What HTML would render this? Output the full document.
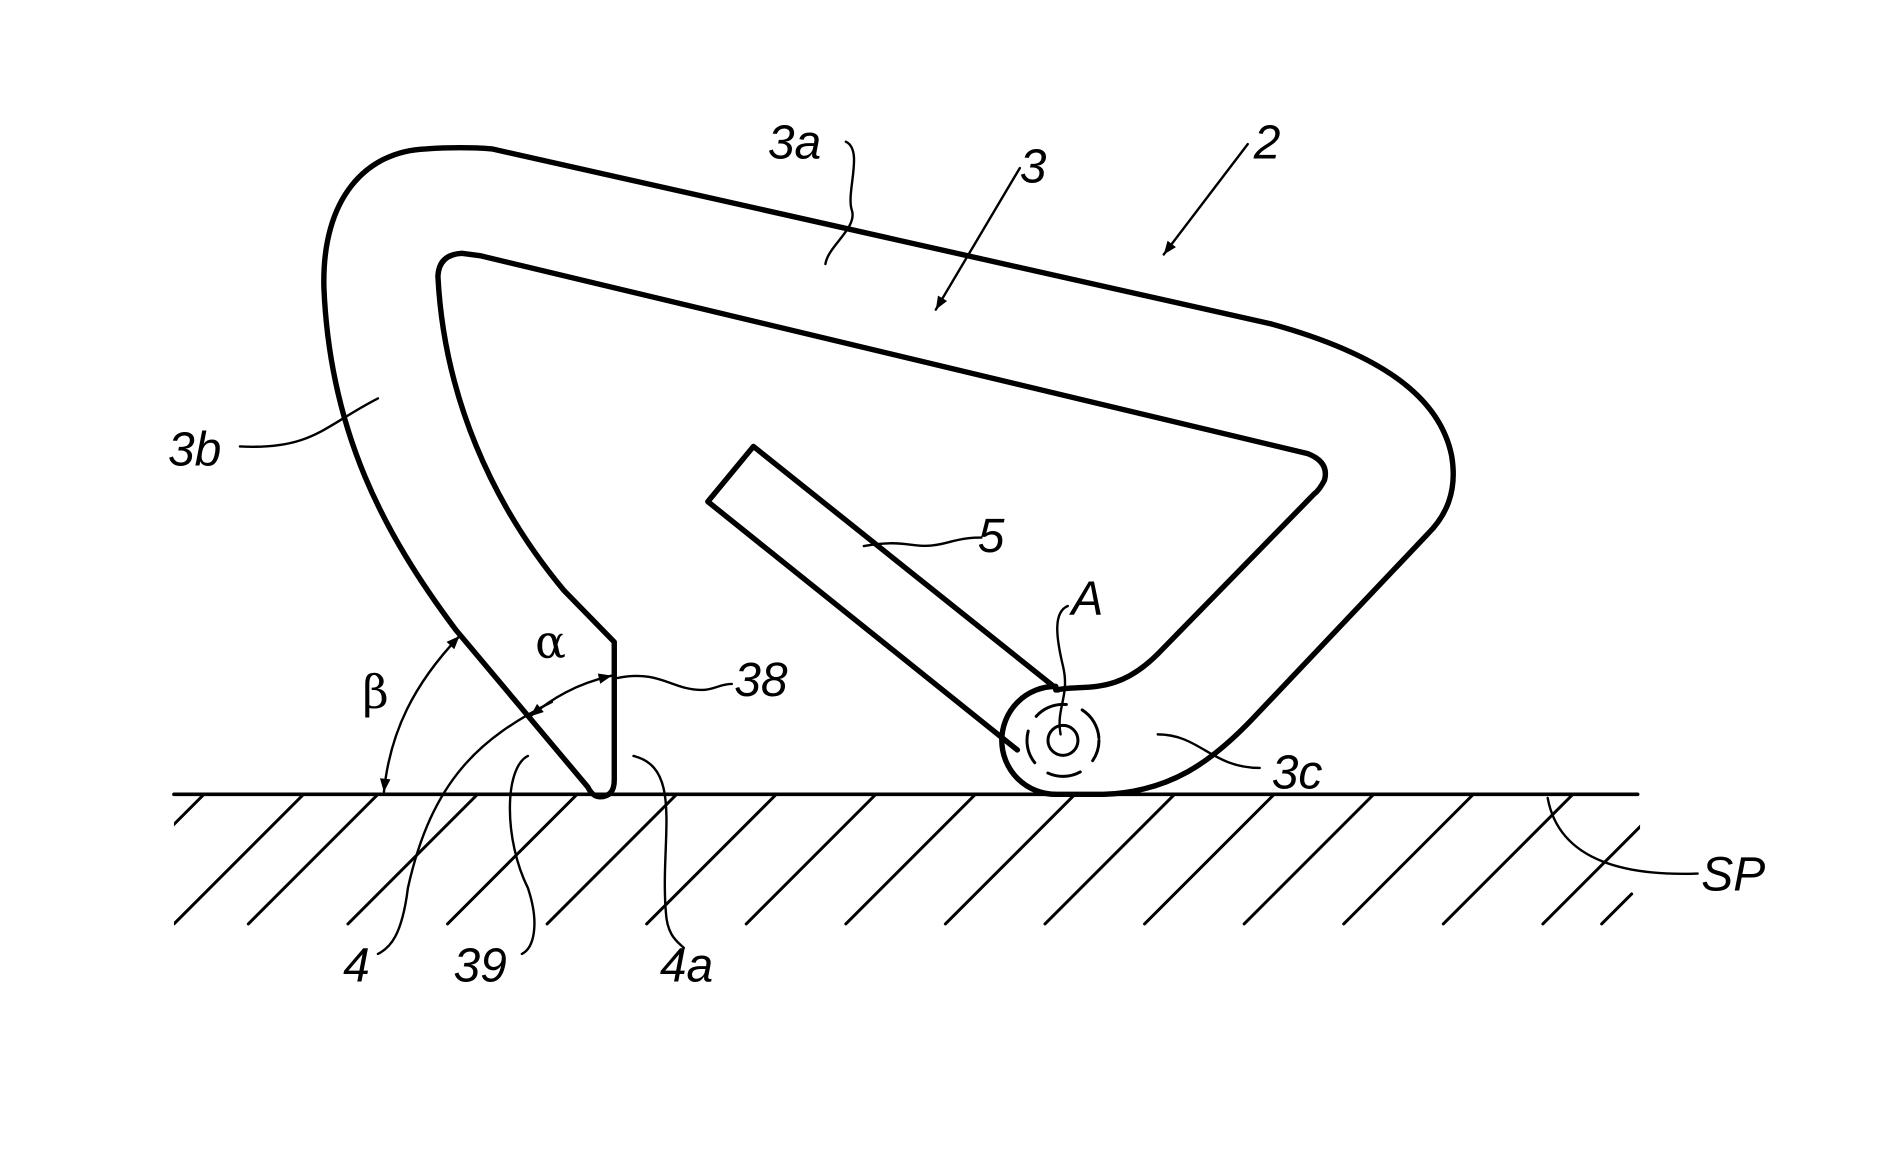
<!DOCTYPE html>
<html><head><style>html,body{margin:0;padding:0;background:#fff}svg{display:block}</style></head>
<body>
<svg width="1880" height="1176" viewBox="0 0 1567 980" xmlns="http://www.w3.org/2000/svg">
<defs>
<clipPath id="g"><rect x="145" y="662" width="1222" height="110"/></clipPath>
<marker id="ar" viewBox="0 0 10 10" refX="10" refY="5" markerWidth="20" markerHeight="11" orient="auto-start-reverse" markerUnits="userSpaceOnUse"><path d="M0,1 L10,5 L0,9 Z" fill="#000"/></marker>
</defs>
<g fill="none" stroke="#000" stroke-linejoin="round" stroke-linecap="round">
<!-- body -->
<path stroke-width="4.5" d="M880,575 C905,570 930,580 965,545 L1095,412 Q1100,408 1104,400 Q1108,385 1090,378 L400,213 L385,211 Q366,212 365,230 C370,330 410,420 470,492 L512,535 L512,650 Q512,664 500,664 Q494,664 490,656 L380,525 C320,445 275,360 270,240 C268,165 305,126 355,124 Q385,122 410,124 L1060,270 C1150,295 1200,330 1210,380 C1215,410 1205,430 1190,445 L1045,598 C1010,635 975,660 920,662 L880,662"/>
<path stroke-width="4.5" d="M880,662 A45,45 0 0 1 880,572"/>
<!-- bar 5 -->
<path stroke-width="4.5" d="M882,575 L628,372 L590,418 L848,625"/>
<!-- pivot -->
<circle cx="886" cy="617" r="12.5" stroke-width="2.5"/>
<circle cx="886" cy="617" r="30" stroke-width="2.5" stroke-dasharray="28,14" stroke-dashoffset="10"/>
<!-- ground -->
<line x1="145" y1="662" x2="1365" y2="662" stroke-width="3"/>
<g clip-path="url(#g)" stroke-width="2.5">
<line x1="62" y1="770" x2="170" y2="662"/><line x1="145" y1="770" x2="253" y2="662"/>
<line x1="207" y1="770" x2="315" y2="662"/><line x1="290" y1="770" x2="398" y2="662"/>
<line x1="373" y1="770" x2="481" y2="662"/><line x1="456" y1="770" x2="564" y2="662"/>
<line x1="539" y1="770" x2="647" y2="662"/><line x1="622" y1="770" x2="730" y2="662"/>
<line x1="705" y1="770" x2="813" y2="662"/><line x1="788" y1="770" x2="896" y2="662"/>
<line x1="871" y1="770" x2="979" y2="662"/><line x1="954" y1="770" x2="1062" y2="662"/>
<line x1="1037" y1="770" x2="1145" y2="662"/><line x1="1120" y1="770" x2="1228" y2="662"/>
<line x1="1203" y1="770" x2="1311" y2="662"/><line x1="1286" y1="770" x2="1394" y2="662"/>
</g>
<line x1="1335" y1="770" x2="1360" y2="745" stroke-width="2.5"/>
<!-- angle arcs -->
<path stroke-width="2" d="M320,660 C325,610 345,570 383,530" marker-start="url(#ar)" marker-end="url(#ar)"/>
<path stroke-width="2" d="M442,597 C460,582 480,570 510,563" marker-start="url(#ar)" marker-end="url(#ar)"/>
<!-- leaders -->
<g stroke-width="2">
<path d="M200,372 C260,375 270,355 315,332"/>
<path d="M705,118 C720,125 705,160 710,175 C715,190 690,205 688,220"/>
<path d="M720,455 C760,448 760,460 790,452 C805,448 812,448 818,448"/>
<path d="M890,505 C878,510 880,530 886,555 C892,580 880,590 884,612"/>
<path d="M965,612 C1000,612 1010,640 1050,640"/>
<path d="M1290,665 C1300,720 1360,730 1415,728"/>
<path d="M515,565 C550,558 560,575 585,575 C595,575 600,570 610,570"/>
<path d="M460,585 C400,615 360,650 340,740 C335,780 325,790 315,795"/>
<path d="M440,630 C420,640 420,700 440,740 C450,770 445,790 435,795"/>
<path d="M528,630 C570,640 550,700 555,760 C556,780 565,785 570,790"/>
</g>
<!-- arrows -->
<line x1="850" y1="140" x2="780" y2="258" stroke-width="2" marker-end="url(#ar)"/>
<line x1="1040" y1="120" x2="970" y2="212" stroke-width="2" marker-end="url(#ar)"/>
</g>
<g font-family="Liberation Sans, sans-serif" font-style="italic" font-size="40" fill="#000">
<text x="640" y="132">3a</text>
<text x="850" y="152">3</text>
<text x="1045" y="132">2</text>
<text x="140" y="388">3b</text>
<text x="815" y="460">5</text>
<text x="893" y="512">A</text>
<text x="1060" y="657">3c</text>
<text x="1418" y="742">SP</text>
<text x="612" y="580">38</text>
<text x="286" y="818">4</text>
<text x="378" y="818">39</text>
<text x="550" y="818">4a</text>
</g>
<g font-family="DejaVu Serif, serif" font-size="38" fill="#000">
<text x="446" y="548">α</text>
<text x="302" y="590">β</text>
</g>
</svg>
</body></html>
